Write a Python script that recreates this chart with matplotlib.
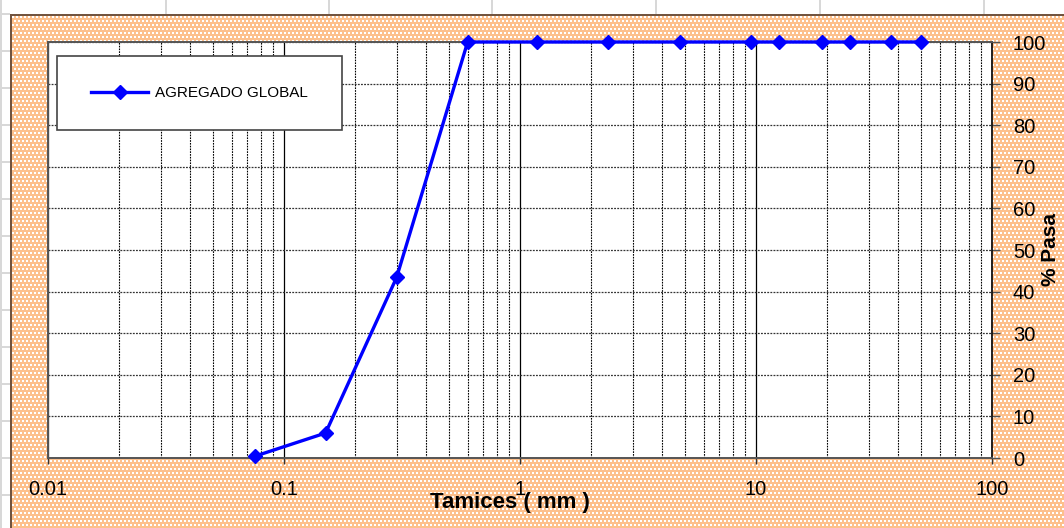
import numpy as np
import matplotlib
matplotlib.use("Agg")
import matplotlib.pyplot as plt
from matplotlib.patches import Rectangle
from matplotlib.ticker import LogLocator, FixedLocator, NullFormatter, FuncFormatter

plt.rcParams['font.family'] = ['Liberation Sans', 'DejaVu Sans']

# granulometria del agregado global
tamices = [0.075, 0.15, 0.3, 0.6, 1.18, 2.36, 4.75, 9.5, 12.5, 19.0, 25.0, 37.5, 50.0]
pasa = [0.4, 6.0, 43.4, 100, 100, 100, 100, 100, 100, 100, 100, 100, 100]
serie = "AGREGADO GLOBAL"
x_ticks = [0.01, 0.1, 1, 10, 100]
y_ticks = list(range(0, 101, 10))

W, H = 1064, 528
fig = plt.figure(figsize=(W / 100, H / 100), dpi=100)

# fondo: hoja de calculo + area del grafico con trama naranja
bg = np.ones((H, W, 3))
grid_grey = np.array([0.85, 0.85, 0.85])
for yy in range(13, H, 37):
    bg[yy:yy + 2, 0:10] = grid_grey
bg[:, 0:2] = grid_grey
for xx in [165, 328, 491, 655, 819, 983]:
    bg[0:14, xx:xx + 2] = grid_grey
yy, xx = np.mgrid[0:H, 0:W]
orange = np.array([253, 192, 140]) / 255
dots = ((yy // 2) % 2 == 0) & ((xx // 2 + (yy // 4)) % 2 == 0)
zone = (yy >= 14) & (xx >= 10)
bg[zone] = orange
bg[zone & dots] = [1, 1, 1]
bg[14:16, 10:] = [0.45, 0.33, 0.25]
bg[14:, 10:12] = [0.45, 0.33, 0.25]
fig.figimage(bg, 0, 0, origin='upper', zorder=0)

ax = fig.add_axes([48 / W, 1 - 458 / H, 944 / W, 416 / H])
ax.set_zorder(2)
ax.set_facecolor('white')
ax.set_xscale('log')
ax.set_xlim(0.01, 100)
ax.set_ylim(0, 100)

ax.plot(tamices, pasa, color='#0000FF', lw=2.4, marker='D', ms=7,
        label=serie, zorder=5, clip_on=False)

ax.xaxis.set_major_locator(FixedLocator(x_ticks))
ax.xaxis.set_minor_locator(LogLocator(base=10, subs=np.arange(2, 10)))
ax.xaxis.set_minor_formatter(NullFormatter())
ax.xaxis.set_major_formatter(FuncFormatter(lambda v, p: f"{v:g}"))
ax.set_yticks(y_ticks)

ax.grid(which='major', axis='x', color='black', lw=0.9, ls='-')
ax.grid(which='minor', axis='x', color='black', lw=0.8, ls=(0, (1.5, 1)))
ax.grid(which='major', axis='y', color='#333333', lw=0.9, ls=(0, (1.5, 1)))
ax.set_axisbelow(True)

ax.yaxis.tick_right()
ax.yaxis.set_label_position('right')
ax.tick_params(axis='y', which='major', direction='out', length=6, width=1,
               color='#555555', labelsize=14.5, pad=9)
ax.tick_params(axis='x', which='major', direction='out', length=4, width=1,
               color='#333333', labelsize=14.5, pad=12)
ax.tick_params(axis='x', which='minor', length=0)

for s in ['left', 'bottom', 'top']:
    ax.spines[s].set_color('#555555')
    ax.spines[s].set_linewidth(1.4)
ax.spines['right'].set_color('black')
ax.spines['right'].set_linewidth(1.2)

ax.set_xlabel('Tamices ( mm )', fontsize=16, fontweight='bold')
ax.xaxis.set_label_coords(0.489, -0.082)
ax.set_ylabel('% Pasa', fontsize=15, fontweight='bold')
ax.yaxis.set_label_coords(1.052, 0.5)

# caja de la leyenda
x0, x1 = (57 - 48) / 944, (342 - 48) / 944
y0, y1 = (458 - 130) / 416, (458 - 56) / 416
ax.add_patch(Rectangle((x0, y0), x1 - x0, y1 - y0, transform=ax.transAxes,
                       facecolor='white', edgecolor='#444444', lw=1.2, zorder=6))
leg = ax.legend(loc='center', bbox_to_anchor=((x0 + x1) / 2, (y0 + y1) / 2),
                frameon=False, fontsize=11, handlelength=3.7, handletextpad=0.45)
leg.set_zorder(7)

fig.savefig('out.png', dpi=100)
